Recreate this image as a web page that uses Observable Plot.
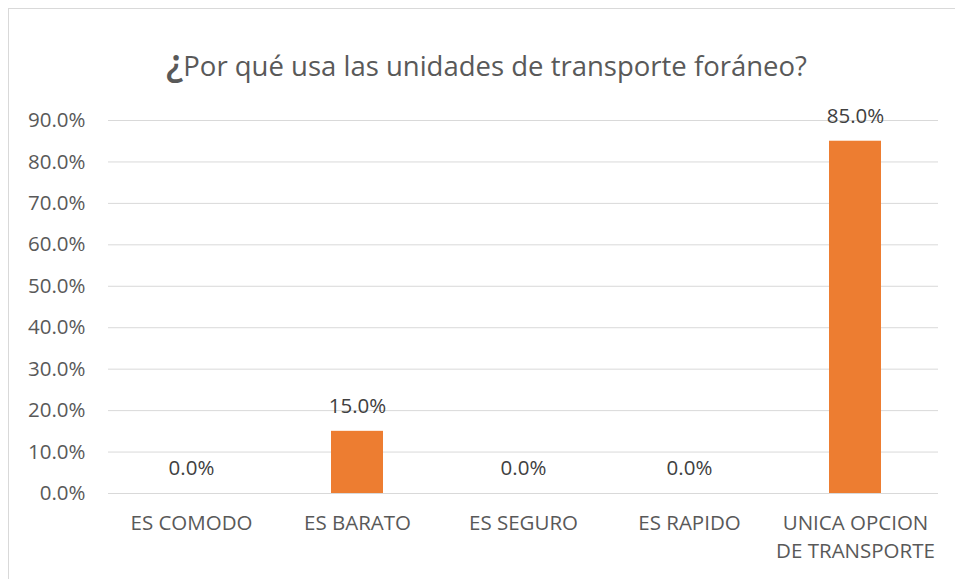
<!DOCTYPE html>
<html>
<head>
<meta charset="utf-8">
<script src="https://cdn.jsdelivr.net/npm/d3@7"></script>
<script src="https://cdn.jsdelivr.net/npm/@observablehq/plot@0.6"></script>
<style>
  html, body { margin: 0; padding: 0; background: #fff; overflow: hidden; }
  #frame { position: absolute; left: 8px; top: 8px; width: 980px; height: 600px; border: 1px solid #d9d9d9; box-sizing: border-box; }
  #wrap { position: absolute; left: 0; top: 0; width: 955px; height: 579px; font-family: "Open Sans", sans-serif; }
  #title { height: 100px; margin: 0; padding: 0; text-align: center; color: #595959; font-size: 27.5px; font-weight: normal; line-height: 1; box-sizing: border-box; padding-top: 42px; padding-left: 18px; white-space: nowrap; }
  #title .q { font-size: 38px; font-weight: 600; }
</style>
</head>
<body>
<div id="frame"></div>
<div id="wrap">
  <div id="title"><span class="q">¿</span>Por qué usa las unidades de transporte foráneo?</div>
  <div id="chart"></div>
</div>
<script>
const categories = ["ES COMODO", "ES BARATO", "ES SEGURO", "ES RAPIDO", "UNICA OPCION DE TRANSPORTE"];
const values = [0.0, 15.0, 0.0, 0.0, 85.0];
const tickLabels = ["ES COMODO", "ES BARATO", "ES SEGURO", "ES RAPIDO", "UNICA OPCION\nDE TRANSPORTE"];
const yTicks = [0, 10, 20, 30, 40, 50, 60, 70, 80, 90];

const data = categories.map((c, i) => ({category: c, value: values[i], label: tickLabels[i]}));
const labelOf = new Map(data.map(d => [d.category, d.label]));

const chart = Plot.plot({
  width: 955,
  height: 479,
  marginTop: 20,
  marginBottom: 86,
  marginLeft: 108,
  marginRight: 17,
  style: {fontFamily: "'Open Sans', sans-serif", fontSize: "20px", color: "#595959", background: "transparent"},
  x: {domain: categories, paddingInner: 0.687, paddingOuter: 0.3435, label: null},
  y: {domain: [0, 90], label: null},
  marks: [
    Plot.gridY(yTicks, {stroke: "#d9d9d9", strokeOpacity: 1, strokeWidth: 1}),
    Plot.barY(data, {x: "category", y: "value", fill: "#ED7D31"}),
    Plot.axisY(yTicks, {tickSize: 0, tickPadding: 23, tickFormat: d => d.toFixed(1) + "%", fill: "#595959", fontSize: 20.5}),
    Plot.axisX({tickSize: 0, tickPadding: 16.5, tickFormat: d => labelOf.get(d), fill: "#595959", fontSize: 20.5, lineHeight: 1.37}),
    Plot.text(data, {x: "category", y: "value", text: d => d.value.toFixed(1) + "%", dy: -24.6, fill: "#404040", fontSize: 20.5})
  ]
});
document.getElementById("chart").appendChild(chart);
</script>
</body>
</html>
